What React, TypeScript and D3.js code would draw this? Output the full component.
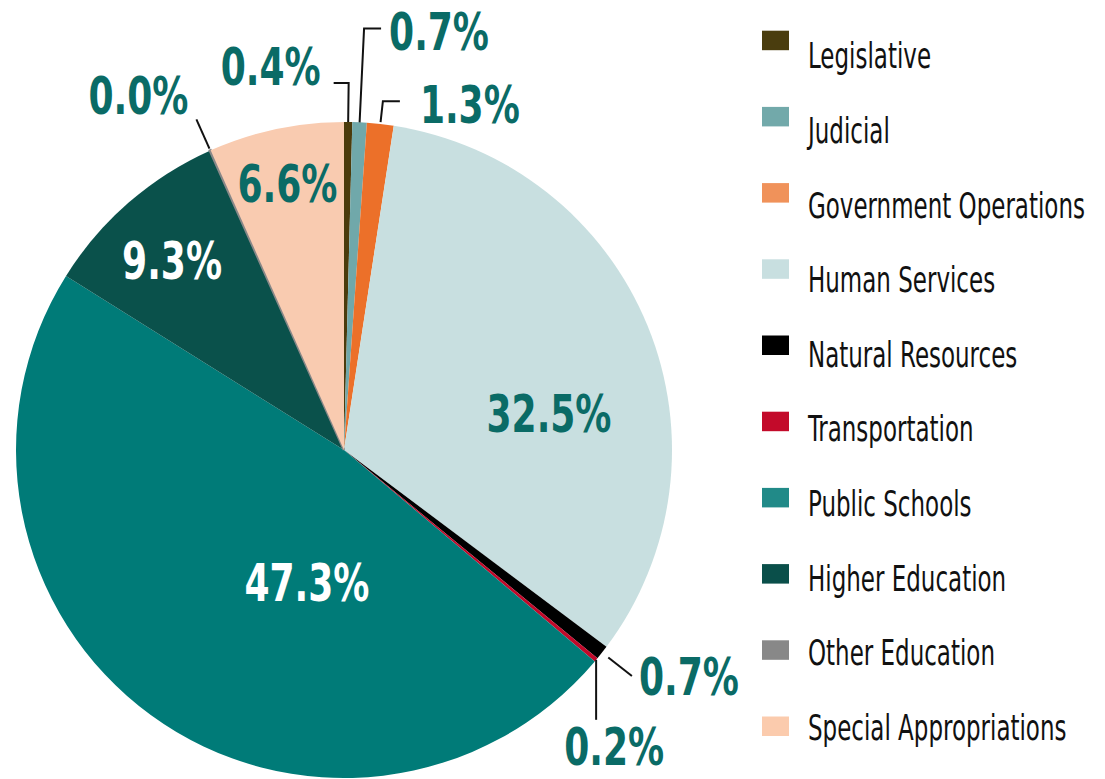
import React from "react";
import * as d3 from "d3";

const categories = [
  "Legislative",
  "Judicial",
  "Government Operations",
  "Human Services",
  "Natural Resources",
  "Transportation",
  "Public Schools",
  "Higher Education",
  "Other Education",
  "Special Appropriations",
];
const values = [0.4, 0.7, 1.3, 32.5, 0.7, 0.2, 47.3, 9.3, 0.04, 6.6];
const sliceColors = ["#4b3b0c", "#70a8aa", "#ec7029", "#c8dfe0", "#000000", "#c1092a", "#007b78", "#0a514b", "#888888", "#f9cbb0"];
const legendColors = ["#4a3d0e", "#72a9aa", "#f0925a", "#c8dfe0", "#000000", "#c30a2a", "#218a88", "#0a4f4a", "#888888", "#fbcbad"];

type Lay =
  | { kind: "in"; dAng: number; rf: number; fill: string }
  | { kind: "elbow"; r0: number; r1: number; hx: number; tdx: number; tdy: number; anchor: string }
  | { kind: "radial"; r0: number; r1: number; tdx: number; tdy: number; anchor: string }
  | { kind: "down"; r0: number; len: number; tdx: number; tdy: number; anchor: string };

const layout: Lay[] = [
  { kind: "elbow", r0: 0, r1: 367, hx: -15, tdx: -13, tdy: 2, anchor: "end" },
  { kind: "elbow", r0: 0, r1: 422, hx: 17, tdx: 8, tdy: 22, anchor: "start" },
  { kind: "elbow", r0: 2, r1: 351, hx: 17, tdx: 20, tdy: 22, anchor: "start" },
  { kind: "in", dAng: 12, rf: 0.635, fill: "#0a6b66" },
  { kind: "radial", r0: 8, r1: 38, tdx: 7, tdy: 19, anchor: "start" },
  { kind: "down", r0: 0, len: 60, tdx: 18, tdy: 45, anchor: "middle" },
  { kind: "in", dAng: -20.5, rf: 0.42, fill: "#ffffff" },
  { kind: "in", dAng: -1.2, rf: 0.78, fill: "#ffffff" },
  { kind: "radial", r0: 2, r1: 34, tdx: -8, tdy: -5, anchor: "end" },
  { kind: "in", dAng: 0, rf: 0.83, fill: "#0a6b66" },
];

const W = 1105;
const H = 779;
const cx = 344;
const cy = 450;
const R = 328;
const labelColor = "#0a6b66";
const FONT = "'DejaVu Sans Condensed', 'DejaVu Sans', sans-serif";
const PCT_SCALE = 0.77;
const LEG_SCALE = 0.71;

const fmt = (v: number) => `${v.toFixed(1)}%`;

function SText(props: { x: number; y: number; sx: number; anchor?: string; fill: string; size: number; bold?: boolean; dy?: string; children: React.ReactNode }) {
  const { x, y, sx, anchor, fill, size, bold, dy, children } = props;
  return (
    <text
      transform={`translate(${x},${y}) scale(${sx},1)`}
      dy={dy}
      textAnchor={anchor || "start"}
      fill={fill}
      fontFamily={FONT}
      fontWeight={bold ? "bold" : "normal"}
      fontSize={size}
    >
      {children}
    </text>
  );
}

export default function App() {
  const pie = d3
    .pie<number>()
    .sort(null)
    .startAngle(0)
    .endAngle(2 * Math.PI)(values);
  const arc = d3.arc<d3.PieArcDatum<number>>().innerRadius(0).outerRadius(R);
  const pt = (a: number, r: number): [number, number] => [Math.sin(a) * r, -Math.cos(a) * r];

  const n = categories.length;
  const swatchY = d3.scaleBand<string>().domain(categories).range([30.7, 30.7 + 76.2 * n]);
  const textY = d3.scaleBand<string>().domain(categories).range([68.3, 68.3 + 74.6 * n]);
  const fs = 52;

  return (
    <svg width={W} height={H} style={{ position: "absolute", left: 0, top: 0, background: "#fff" }}>
      <g transform={`translate(${cx},${cy})`}>
        {pie.map((d, i) => (
          <path
            key={categories[i]}
            d={arc(d) || ""}
            fill={sliceColors[i]}
            stroke={values[i] < 0.1 ? sliceColors[i] : "none"}
            strokeWidth={values[i] < 0.1 ? 2.5 : 0}
          />
        ))}
        {pie.map((d, i) => {
          const L = layout[i];
          const mid = (d.startAngle + d.endAngle) / 2;
          const text = fmt(values[i]);
          if (L.kind === "in") {
            const [x, y] = pt(mid + (L.dAng * Math.PI) / 180, R * L.rf);
            return (
              <SText key={i} x={x} y={y} dy="0.36em" sx={PCT_SCALE} anchor="middle" fill={L.fill} size={fs} bold>
                {text}
              </SText>
            );
          }
          if (L.kind === "elbow") {
            const [x0, y0] = pt(mid, R + L.r0);
            const [x1, y1] = pt(mid, L.r1);
            const x2 = x1 + L.hx;
            return (
              <g key={i}>
                <polyline points={`${x0},${y0} ${x1},${y1} ${x2},${y1}`} fill="none" stroke="#111" strokeWidth={2} />
                <SText x={x2 + L.tdx} y={y1 + L.tdy} sx={PCT_SCALE} anchor={L.anchor} fill={labelColor} size={fs} bold>
                  {text}
                </SText>
              </g>
            );
          }
          if (L.kind === "radial") {
            const [x0, y0] = pt(mid, R + L.r0);
            const [x1, y1] = pt(mid, R + L.r1);
            return (
              <g key={i}>
                <line x1={x0} y1={y0} x2={x1} y2={y1} stroke="#111" strokeWidth={2} />
                <SText x={x1 + L.tdx} y={y1 + L.tdy} sx={PCT_SCALE} anchor={L.anchor} fill={labelColor} size={fs} bold>
                  {text}
                </SText>
              </g>
            );
          }
          const [x0, y0] = pt(mid, R + L.r0);
          return (
            <g key={i}>
              <line x1={x0} y1={y0} x2={x0} y2={y0 + L.len} stroke="#111" strokeWidth={2} />
              <SText x={x0 + L.tdx} y={y0 + L.len + L.tdy} sx={PCT_SCALE} anchor={L.anchor} fill={labelColor} size={fs} bold>
                {text}
              </SText>
            </g>
          );
        })}
      </g>
      <g>
        {categories.map((c, i) => (
          <g key={c}>
            <rect x={762} y={swatchY(c) || 0} width={27} height={19.5} fill={legendColors[i]} />
            <SText x={808} y={textY(c) || 0} sx={LEG_SCALE} fill="#111" size={36}>
              {c}
            </SText>
          </g>
        ))}
      </g>
    </svg>
  );
}
